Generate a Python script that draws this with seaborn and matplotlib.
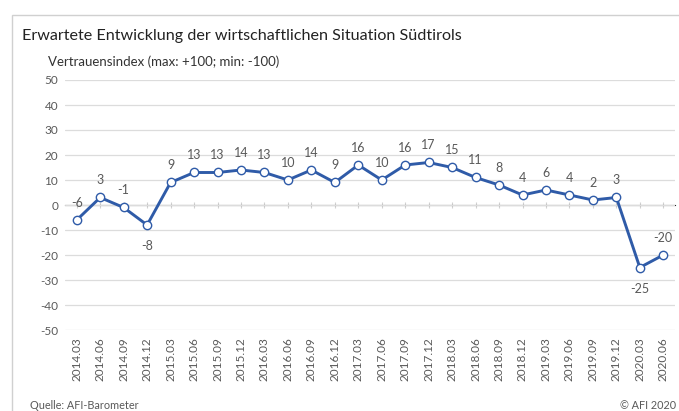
import seaborn as sns
import matplotlib.pyplot as plt
import pandas as pd
from matplotlib.patches import Rectangle

# Daten
quartale = ['2014.03', '2014.06', '2014.09', '2014.12', '2015.03', '2015.06', '2015.09',
            '2015.12', '2016.03', '2016.06', '2016.09', '2016.12', '2017.03', '2017.06',
            '2017.09', '2017.12', '2018.03', '2018.06', '2018.09', '2018.12', '2019.03',
            '2019.06', '2019.09', '2019.12', '2020.03', '2020.06']
index_werte = [-6, 3, -1, -8, 9, 13, 13, 14, 13, 10, 14, 9, 16, 10, 16, 17, 15, 11, 8, 4,
               6, 4, 2, 3, -25, -20]
unter_punkt = ['2014.12', '2020.03']  # labels below the marker
y_ticks = [50, 40, 30, 20, 10, 0, -10, -20, -30, -40, -50]

df = pd.DataFrame({'quartal': quartale, 'wert': index_werte})
df['pos'] = range(len(df))

sns.set_style("white")
plt.rcParams['font.family'] = ['Lato', 'DejaVu Sans']
plt.rcParams['axes.unicode_minus'] = False

blau = '#2f5ba8'
grau_text = '#595959'

fig = plt.figure(figsize=(6.79, 4.11), dpi=100)
ax = fig.add_axes([65 / 679, 1 - 330 / 411, 610 / 679, 250 / 411])

# Rahmen um das Diagramm
fig.patches.append(Rectangle((12 / 679, -0.05), 1.0, 1 - 15 / 411 + 0.05,
                             transform=fig.transFigure, fill=False,
                             edgecolor='#d0d0d0', linewidth=1.0))

sns.lineplot(data=df, x='pos', y='wert', ax=ax, color=blau, linewidth=2.1,
             marker='o', markersize=6, markerfacecolor='white',
             markeredgecolor=blau, markeredgewidth=1.0, zorder=3)

for _, r in df.iterrows():
    if r['quartal'] in unter_punkt:
        ax.annotate(f"{r['wert']:d}", (r['pos'], r['wert']), xytext=(0, -11),
                    textcoords='offset points', ha='center', va='top',
                    fontsize=9, color=grau_text)
    else:
        ax.annotate(f"{r['wert']:d}", (r['pos'], r['wert']), xytext=(0, 8),
                    textcoords='offset points', ha='center', va='bottom',
                    fontsize=9, color=grau_text)

ax.set_xlim(-0.5, len(df) - 0.5)
ax.set_ylim(-50, 50)
ax.set_yticks(y_ticks)
ax.set_xticks(df['pos'])
ax.set_xticklabels(df['quartal'], rotation=90)
ax.tick_params(axis='both', length=0, labelsize=8.5, colors=grau_text, pad=5)
ax.grid(axis='y', color='#dcdcdc', linewidth=0.9)
ax.set_xlabel('')
ax.set_ylabel('')
for s in ax.spines.values():
    s.set_visible(False)

# Nulllinie mit kleinen Strichen
null_achse = ax.secondary_xaxis(0.5)
null_achse.set_xticks(df['pos'])
null_achse.set_xticklabels([])
null_achse.tick_params(direction='inout', length=4, color='#d0d0d0')
null_achse.spines['bottom'].set_color('#d0d0d0')

fig.text(22 / 679, 1 - 36 / 411, 'Erwartete Entwicklung der wirtschaftlichen Situation Südtirols',
         fontsize=11.6, color='#222222', va='center', ha='left')
fig.text(48 / 679, 1 - 62 / 411, 'Vertrauensindex (max: +100; min: -100)',
         fontsize=9.5, color='#333333', va='center', ha='left')
fig.text(30 / 679, 1 - 405 / 411, 'Quelle: AFI-Barometer',
         fontsize=7.8, color=grau_text, va='center', ha='left')
fig.text(676 / 679, 1 - 405 / 411, '© AFI 2020',
         fontsize=7.8, color=grau_text, va='center', ha='right')

fig.savefig('out.png', dpi=100)
